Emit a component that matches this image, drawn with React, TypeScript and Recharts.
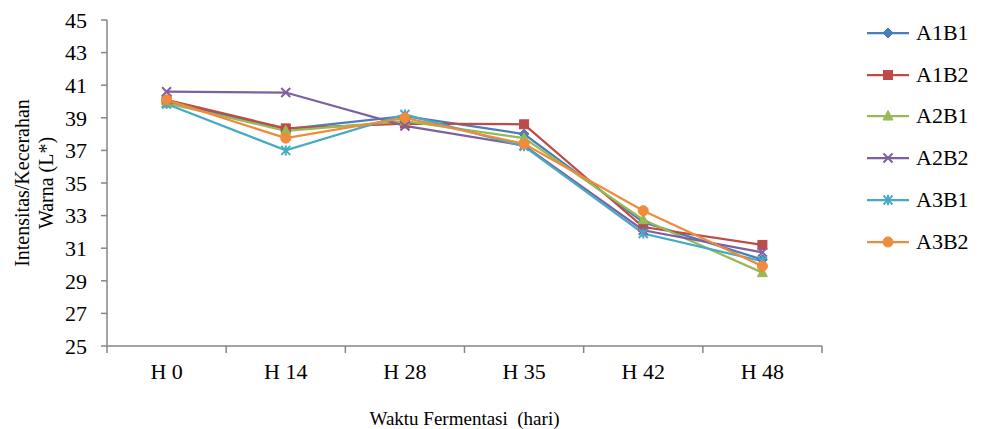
import React from 'react';
import { LineChart, Line, XAxis, YAxis, Legend } from 'recharts';

const categories = ['H 0', 'H 14', 'H 28', 'H 35', 'H 42', 'H 48'];
const A1B1 = [40.0, 38.3, 39.1, 38.0, 32.6, 30.3];
const A1B2 = [40.1, 38.35, 38.65, 38.6, 32.3, 31.2];
const A2B1 = [39.9, 38.2, 38.8, 37.75, 32.75, 29.5];
const A2B2 = [40.6, 40.55, 38.5, 37.3, 32.1, 30.75];
const A3B1 = [39.85, 37.0, 39.2, 37.25, 31.9, 30.2];
const A3B2 = [40.1, 37.75, 39.0, 37.4, 33.3, 29.9];
const yTicks = [25, 27, 29, 31, 33, 35, 37, 39, 41, 43, 45];

const seriesList = [
  { key: 'A1B1', values: A1B1, color: '#4A7EBB', marker: 'diamond' },
  { key: 'A1B2', values: A1B2, color: '#BE4B48', marker: 'square' },
  { key: 'A2B1', values: A2B1, color: '#98B954', marker: 'triangle' },
  { key: 'A2B2', values: A2B2, color: '#7D60A0', marker: 'x' },
  { key: 'A3B1', values: A3B1, color: '#46AAC5', marker: 'star' },
  { key: 'A3B2', values: A3B2, color: '#F08A3C', marker: 'circle' },
];

const data = categories.map((name, i) => {
  const row: any = { name };
  seriesList.forEach((s) => (row[s.key] = s.values[i]));
  return row;
});

const FONT = 'Liberation Serif';
const AXIS = '#868686';
const PLOT_LEFT = 107;
const PLOT_RIGHT = 822;
const HALF_BAND = (PLOT_RIGHT - PLOT_LEFT) / categories.length / 2;

function Marker({ type, cx, cy, color }: any) {
  if (cx == null || cy == null || isNaN(cx) || isNaN(cy)) return <g />;
  switch (type) {
    case 'diamond':
      return <path d={`M${cx},${cy - 5} L${cx + 5},${cy} L${cx},${cy + 5} L${cx - 5},${cy} Z`} fill={color} stroke={color} strokeWidth={1} />;
    case 'square':
      return <rect x={cx - 4.5} y={cy - 4.5} width={9} height={9} fill={color} stroke={color} strokeWidth={1} />;
    case 'triangle':
      return <path d={`M${cx},${cy - 5.5} L${cx + 5},${cy + 4} L${cx - 5},${cy + 4} Z`} fill={color} stroke={color} strokeWidth={1} />;
    case 'x':
      return <path d={`M${cx - 4.5},${cy - 4.5} L${cx + 4.5},${cy + 4.5} M${cx + 4.5},${cy - 4.5} L${cx - 4.5},${cy + 4.5}`} stroke={color} strokeWidth={2} fill="none" />;
    case 'star':
      return <path d={`M${cx - 4.5},${cy - 4.5} L${cx + 4.5},${cy + 4.5} M${cx + 4.5},${cy - 4.5} L${cx - 4.5},${cy + 4.5} M${cx},${cy - 5} L${cx},${cy + 5}`} stroke={color} strokeWidth={2} fill="none" />;
    case 'circle':
    default:
      return <circle cx={cx} cy={cy} r={5} fill={color} stroke={color} strokeWidth={1} />;
  }
}

const XTick = (props: any) => {
  const { x, y, payload, index } = props;
  const last = index === categories.length - 1;
  return (
    <g>
      <line x1={x - HALF_BAND} y1={y} x2={x - HALF_BAND} y2={y + 7} stroke={AXIS} strokeWidth={1.5} />
      {last && <line x1={x + HALF_BAND} y1={y} x2={x + HALF_BAND} y2={y + 7} stroke={AXIS} strokeWidth={1.5} />}
      <text x={x} y={y + 17} dy="0.71em" textAnchor="middle" fontFamily={FONT} fontSize={22} fill="#000">
        {payload.value}
      </text>
    </g>
  );
};

const LegendContent = () => (
  <div style={{ fontFamily: FONT, fontSize: 22, color: '#000', lineHeight: 1 }}>
    {seriesList.map((s) => (
      <div key={s.key} style={{ display: 'flex', alignItems: 'center', height: 41.8 }}>
        <svg width={44} height={14} style={{ marginRight: 6 }}>
          <line x1={1} y1={7} x2={43} y2={7} stroke={s.color} strokeWidth={2.25} />
          <Marker type={s.marker} cx={22} cy={7} color={s.color} />
        </svg>
        <span>{s.key}</span>
      </div>
    ))}
  </div>
);

const YLabel = (props: any) => {
  const vb = props.viewBox || {};
  const cy = vb.y + vb.height / 2;
  return (
    <g>
      <text x={22} y={cy} transform={`rotate(-90, 22, ${cy})`} textAnchor="middle" dominantBaseline="central" fontFamily={FONT} fontSize={20} fill="#000">
        Intensitas/Kecerahan
      </text>
      <text x={46} y={cy} transform={`rotate(-90, 46, ${cy})`} textAnchor="middle" dominantBaseline="central" fontFamily={FONT} fontSize={20} fill="#000">
        Warna (L*)
      </text>
    </g>
  );
};

const XLabel = () => (
  <text x={(PLOT_LEFT + PLOT_RIGHT) / 2} y={418} textAnchor="middle" dominantBaseline="central" fontFamily={FONT} fontSize={19} fill="#000" style={{ whiteSpace: 'pre' }}>
    {'Waktu Fermentasi\u00A0\u00A0(hari)'}
  </text>
);

export default function App() {
  return (
    <div style={{ position: 'absolute', left: 0, top: 0, width: 986, height: 429, background: '#fff' }}>
      <LineChart width={986} height={429} data={data} margin={{ top: 20, right: 986 - PLOT_RIGHT, bottom: 0, left: 0 }}>
        <XAxis
          dataKey="name"
          padding={{ left: HALF_BAND, right: HALF_BAND }}
          height={83}
          axisLine={{ stroke: AXIS, strokeWidth: 1.5 }}
          tickLine={false}
          tickSize={0}
          tickMargin={0}
          interval={0}
          tick={<XTick />}
          label={<XLabel />}
        />
        <YAxis
          width={PLOT_LEFT}
          domain={[25, 45]}
          ticks={yTicks}
          allowDataOverflow
          axisLine={{ stroke: AXIS, strokeWidth: 1.5 }}
          tickLine={{ stroke: AXIS, strokeWidth: 1.5 }}
          tickSize={6}
          tickMargin={14}
          tick={{ fontFamily: FONT, fontSize: 22, fill: '#000' }}
          label={<YLabel />}
        />
        <Legend
          layout="vertical"
          align="center"
          verticalAlign="middle"
          content={<LegendContent />}
          wrapperStyle={{ left: 866, top: 12, width: 120 }}
        />
        {seriesList.map((s) => (
          <Line
            key={s.key}
            dataKey={s.key}
            stroke={s.color}
            strokeWidth={2.25}
            isAnimationActive={false}
            dot={(p: any) => <Marker key={`${s.key}-${p.index}`} type={s.marker} cx={p.cx} cy={p.cy} color={s.color} />}
            activeDot={false}
          />
        ))}
      </LineChart>
    </div>
  );
}
